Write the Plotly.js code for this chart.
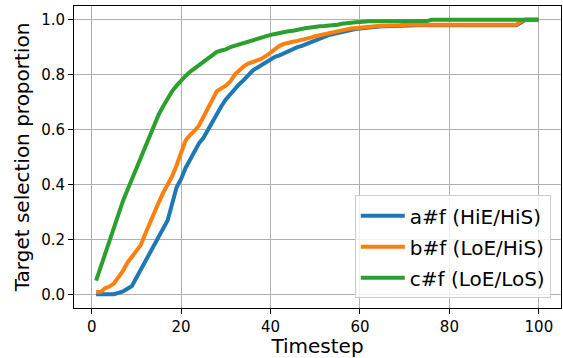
<!DOCTYPE html>
<html>
<head>
<meta charset="utf-8">
<script src="https://cdn.plot.ly/plotly-3.0.1.min.js"></script>
<style>html,body{margin:0;padding:0;background:#fff;}#chart{width:563px;height:358px;}</style>
</head>
<body>
<div id="chart"></div>
<script>
const timesteps = Array.from({length: 100}, (_, i) => i + 1);

const seriesNames = ["a#f (HiE/HiS)", "b#f (LoE/HiS)", "c#f (LoE/LoS)"];
const seriesColors = ["#1f77b4", "#ff7f0e", "#2ca02c"];

const seriesA = [
  0, 0, 0, 0, 0, 0.005, 0.01, 0.02, 0.03, 0.06,
  0.09, 0.12, 0.15, 0.18, 0.21, 0.24, 0.27, 0.33, 0.39, 0.42,
  0.46, 0.49, 0.52, 0.55, 0.57, 0.60, 0.63, 0.66, 0.685, 0.71,
  0.73, 0.75, 0.765, 0.78, 0.80, 0.815, 0.825, 0.835, 0.845, 0.855,
  0.865, 0.87, 0.878, 0.885, 0.893, 0.90, 0.905, 0.912, 0.918, 0.925,
  0.932, 0.94, 0.944, 0.948, 0.952, 0.955, 0.958, 0.962, 0.966, 0.968,
  0.97, 0.972, 0.974, 0.975, 0.976, 0.976, 0.977, 0.978, 0.978, 0.98,
  0.98, 0.98, 0.98, 0.98, 0.98, 0.98, 0.98, 0.98, 0.98, 0.98,
  0.98, 0.98, 0.98, 0.98, 0.98, 0.98, 0.98, 0.98, 0.98, 0.98,
  0.98, 0.98, 0.98, 0.98, 0.98, 0.99, 1.0, 1.0, 1.0, 1.0
];

const seriesB = [
  0.008, 0.008, 0.022, 0.028, 0.04, 0.06, 0.085, 0.115, 0.135, 0.155,
  0.18, 0.22, 0.26, 0.30, 0.335, 0.37, 0.40, 0.43, 0.47, 0.52,
  0.56, 0.58, 0.595, 0.615, 0.645, 0.675, 0.705, 0.74, 0.75, 0.76,
  0.775, 0.80, 0.815, 0.83, 0.84, 0.845, 0.85, 0.858, 0.868, 0.88,
  0.895, 0.905, 0.912, 0.917, 0.92, 0.923, 0.926, 0.93, 0.935, 0.94,
  0.944, 0.948, 0.952, 0.955, 0.958, 0.962, 0.965, 0.968, 0.97, 0.972,
  0.974, 0.975, 0.976, 0.977, 0.978, 0.978, 0.979, 0.98, 0.98, 0.982,
  0.982, 0.982, 0.982, 0.982, 0.982, 0.982, 0.982, 0.982, 0.982, 0.982,
  0.982, 0.982, 0.982, 0.982, 0.982, 0.982, 0.982, 0.982, 0.982, 0.982,
  0.982, 0.982, 0.982, 0.982, 0.982, 0.995, 1.0, 1.0, 1.0, 1.0
];

const seriesC = [
  0.05, 0.10, 0.15, 0.19, 0.24, 0.29, 0.34, 0.38, 0.42, 0.46,
  0.50, 0.54, 0.58, 0.62, 0.655, 0.685, 0.715, 0.74, 0.76, 0.78,
  0.795, 0.81, 0.822, 0.835, 0.848, 0.86, 0.873, 0.883, 0.888, 0.892,
  0.90, 0.905, 0.912, 0.917, 0.92, 0.925, 0.93, 0.935, 0.94, 0.945,
  0.948, 0.952, 0.955, 0.958, 0.96, 0.964, 0.967, 0.97, 0.972, 0.975,
  0.976, 0.977, 0.978, 0.98, 0.982, 0.985, 0.988, 0.99, 0.991, 0.992,
  0.994, 0.994, 0.994, 0.994, 0.995, 0.995, 0.995, 0.995, 0.995, 0.995,
  0.995, 0.995, 0.995, 0.995, 0.995, 1.0, 1.0, 1.0, 1.0, 1.0,
  1.0, 1.0, 1.0, 1.0, 1.0, 1.0, 1.0, 1.0, 1.0, 1.0,
  1.0, 1.0, 1.0, 1.0, 1.0, 1.0, 1.0, 1.0, 1.0, 1.0
];

const xTicks = [0, 20, 40, 60, 80, 100];
const yTicks = [0.0, 0.2, 0.4, 0.6, 0.8, 1.0];

const allSeries = [seriesA, seriesB, seriesC];
const traces = allSeries.map((ys, i) => ({
  x: timesteps, y: ys, type: "scatter", mode: "lines",
  name: seriesNames[i],
  legendgroup: "g" + i,
  line: {color: seriesColors[i], width: 4}
}));

const font = "DejaVu Sans, sans-serif";
const axisCommon = {
  showline: true, mirror: true, linecolor: "#000", linewidth: 1,
  ticks: "outside", ticklen: 5, tickwidth: 1, tickcolor: "#000",
  showgrid: true, gridcolor: "#b0b0b0", gridwidth: 1, zeroline: false,
  tickfont: {family: font, size: 15, color: "#000"}
};

const layout = {
  width: 563, height: 358,
  margin: {l: 74, r: 2, t: 6, b: 50},
  paper_bgcolor: "#fff", plot_bgcolor: "#fff",
  font: {family: font, color: "#000"},
  showlegend: true,
  xaxis: Object.assign({}, axisCommon, {
    range: [-3.95, 104.95], tickmode: "array", tickvals: xTicks,
    ticktext: xTicks.map(String),
    title: {text: "Timestep", font: {family: font, size: 20, color: "#000"}, standoff: 4}
  }),
  yaxis: Object.assign({}, axisCommon, {
    range: [-0.05, 1.05], tickmode: "array", tickvals: yTicks,
    ticktext: yTicks.map(v => v.toFixed(1)),
    title: {text: "Target selection proportion", font: {family: font, size: 20, color: "#000"}, standoff: 6}
  }),
  legend: {
    x: 0.979, y: 0.032, xanchor: "right", yanchor: "bottom",
    bgcolor: "rgba(255,255,255,0.8)", bordercolor: "#cccccc", borderwidth: 1,
    font: {family: font, size: 20, color: "#000"},
    traceorder: "grouped",
    tracegroupgap: 2,
    itemwidth: 44
  }
};

Plotly.newPlot("chart", traces, layout, {displayModeBar: false, staticPlot: true});
</script>
</body>
</html>
